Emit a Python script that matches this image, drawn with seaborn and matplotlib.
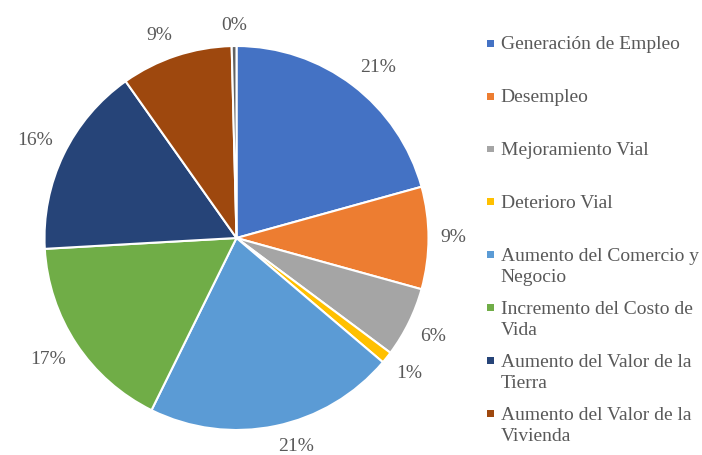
import numpy as np
import matplotlib
matplotlib.use("Agg")
import matplotlib.pyplot as plt
import seaborn as sns
from matplotlib.patches import Patch, Rectangle
from matplotlib.legend_handler import HandlerBase

# Legend categories (one per labelled slice)
categories = [
    "Generación de Empleo",
    "Desempleo",
    "Mejoramiento Vial",
    "Deterioro Vial",
    "Aumento del Comercio y\nNegocio",
    "Incremento del Costo de\nVida",
    "Aumento del Valor de la\nTierra",
    "Aumento del Valor de la\nVivienda",
]
# Slice shares (%); the last one is a small unlabelled remainder
shares = [20.7, 8.6, 5.9, 1.0, 21.1, 16.8, 16.1, 9.4, 0.4]
slice_colors = ["#4472C4", "#ED7D31", "#A5A5A5", "#FFC000", "#5B9BD5",
                "#70AD47", "#264478", "#9E480E", "#636363"]

sns.set_style("white")
plt.rcParams["font.family"] = ["Liberation Serif", "DejaVu Serif"]
TEXT = "#595959"
FS = 14

palette = sns.color_palette(slice_colors)

W, H = 702, 455
fig = plt.figure(figsize=(W / 100, H / 100), dpi=100)
ax_w = 474
ax = fig.add_axes([0, 0, ax_w / W, 1])

wedges, _, pct_texts = ax.pie(
    shares,
    colors=palette,
    startangle=90,
    counterclock=False,
    radius=1.0,
    autopct="%1.0f%%",
    wedgeprops=dict(edgecolor="white", linewidth=1.5),
    textprops=dict(color=TEXT, fontsize=FS),
)

# pie radius of 192 px, centred at (236.5, 238) from the top-left corner
R_PX = 192.0
cx, cy = 236.5, 238.0
ax.set_xlim(-cx / R_PX, (ax_w - cx) / R_PX)
ax.set_ylim(-(H - cy) / R_PX, cy / R_PX)
ax.set_aspect("equal")
ax.axis("off")

# Percentage labels just outside each slice's outer edge
gap = 12.0 / R_PX
for w, t in zip(wedges, pct_texts):
    th = np.deg2rad(0.5 * (w.theta1 + w.theta2))
    c, s = np.cos(th), np.sin(th)
    t.set_position(((1 + gap) * c, (1 + gap) * s))
    t.set_ha("center" if abs(c) < 0.15 else ("left" if c > 0 else "right"))
    t.set_va("center" if abs(s) < 0.15 else ("bottom" if s > 0 else "top"))


class SquareHandler(HandlerBase):
    """Small square marker aligned with the first line of its label."""

    def __init__(self, side, lift):
        super().__init__()
        self.side = side
        self.lift = lift

    def create_artists(self, legend, orig_handle, xdescent, ydescent,
                       width, height, fontsize, trans):
        s = self.side
        x = -xdescent + width - s
        y = -ydescent + height / 2 - s / 2 + self.lift
        p = Rectangle((x, y), s, s, facecolor=orig_handle.get_facecolor(),
                      edgecolor="none", transform=trans)
        return [p]


handles = [Patch(facecolor=w.get_facecolor(), edgecolor="none")
           for w in wedges[:len(categories)]]
labels = [lab if "\n" in lab else lab + "\n" for lab in categories]
handler = SquareHandler(side=5.0, lift=0.6 * FS)

leg = fig.legend(
    handles, labels,
    handler_map={Patch: handler},
    loc="upper left",
    bbox_to_anchor=(486 / W, 1 - 36 / H),
    frameon=False,
    fontsize=FS,
    labelcolor=TEXT,
    handlelength=0.4,
    handletextpad=0.35,
    borderpad=0,
    borderaxespad=0,
    labelspacing=0.76,
)
for t in leg.get_texts():
    t.set_linespacing(1.32)

fig.savefig("out.png", dpi=100)
